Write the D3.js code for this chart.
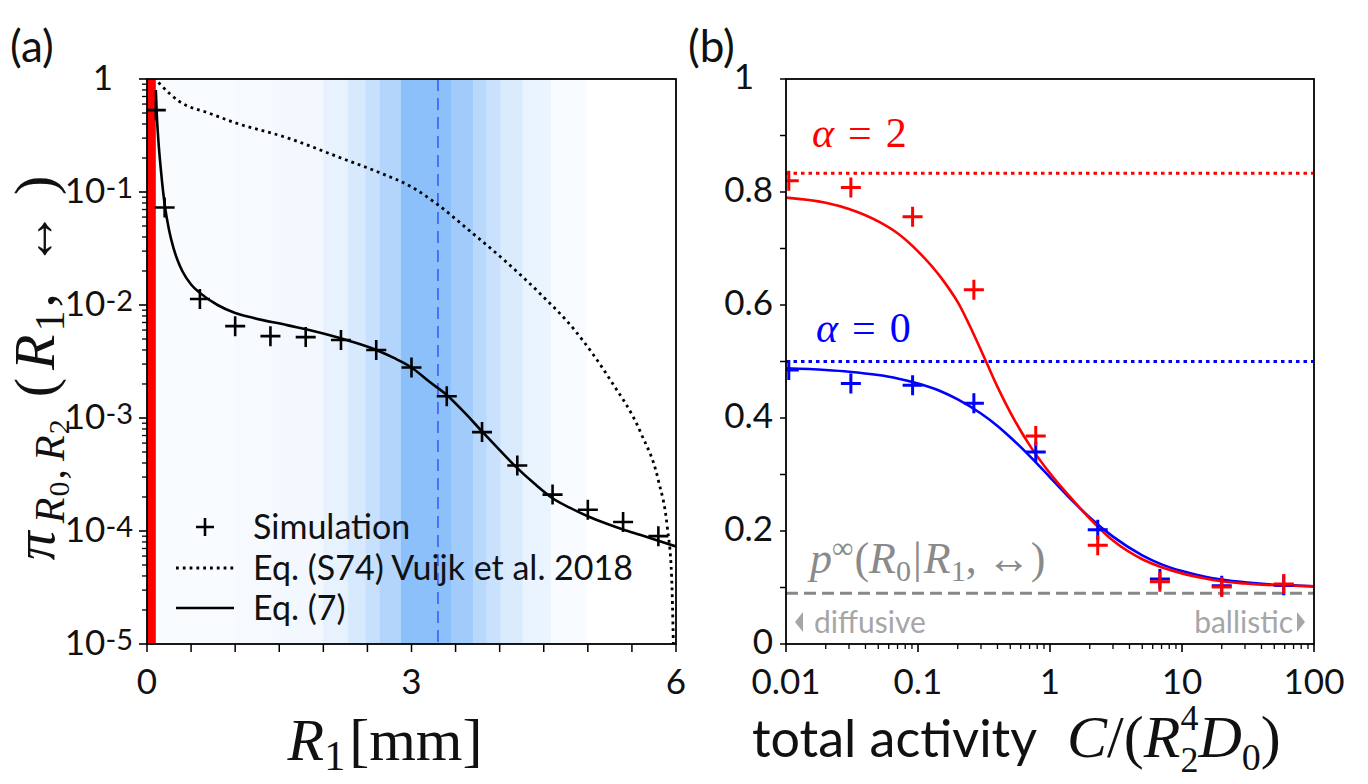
<!DOCTYPE html>
<html><head><meta charset="utf-8">
<script src="https://cdn.jsdelivr.net/npm/d3@7"></script>
<style>
body{margin:0;background:#fff;}
svg{display:block;}
</style></head><body>
<svg id="chart" width="1368" height="784"></svg>
<script>
// ================= DATA =================
// Panel (a)
const simR1 = [0.1,0.2,0.6,1.0,1.4,1.8,2.2,2.6,3.0,3.4,3.8,4.2,4.6,5.0,5.4,5.8];
const simPi = [0.53,0.073,0.0113,0.0065,0.0053,0.0052,0.0049,0.0040,0.0028,0.00156,0.00075,0.00038,0.00021,0.000154,0.00012,0.00009];
const eq7R1 = [0.10,0.11,0.13,0.16,0.2,0.25,0.3,0.35,0.4,0.5,0.6,0.8,1.0,1.2,1.6,2.0,2.3,2.6,2.8,3.0,3.2,3.4,3.6,3.8,4.0,4.2,4.4,4.6,4.8,5.0,5.2,5.4,5.6,5.8,6.0];
const eq7Pi = [0.8,0.5,0.28,0.15,0.078,0.046,0.032,0.0245,0.020,0.0152,0.0128,0.0100,0.0085,0.0077,0.0066,0.0056,0.0048,0.0040,0.0034,0.0028,0.0021,0.0016,0.00112,0.00076,0.00052,0.00036,0.00026,0.000195,0.00016,0.000135,0.000117,0.000103,0.000092,0.000082,0.000073];
const vuijkR1 = [0.13,0.37,0.7,1.0,1.6,2.2,2.65,3.0,3.3,3.65,4.05,4.45,4.85,5.25,5.6,5.8,5.9,5.95,5.97];
const vuijkPi = [0.93,0.63,0.5,0.41,0.30,0.20,0.147,0.111,0.077,0.046,0.025,0.0128,0.006,0.0022,0.00074,0.00028,0.00011,0.00004,0.00001];
const shadeEdges = [0,0.5,1.0,1.5,2.0,2.28,2.48,2.64,2.88,3.45,3.7,3.85,4.01,4.26,4.58,4.99,6];   // band edges (mm)
const shadeLevel = [0.05,0.06,0.08,0.11,0.2,0.35,0.5,0.66,1.0,0.82,0.62,0.47,0.32,0.18,0.06,0];
const R0 = 0.1;           // absorbing region (red bar)
const R1mark = 3.3;       // dashed line
const aXTicks = [0,3,6];
const aYTicks = [1,1e-1,1e-2,1e-3,1e-4,1e-5];
const aYTickExp = [null,"-1","-2","-3","-4","-5"];
const legendLabels = ["Simulation","Eq. (S74) Vuijk et al. 2018","Eq. (7)"];

// Panel (b)
const activity = [0.0105,0.031,0.091,0.265,0.78,2.3,6.8,20,59];
const simAlpha2 = [0.82,0.808,0.756,0.627,0.368,0.175,0.110,0.101,0.106];
const simAlpha0 = [0.485,0.461,0.458,0.426,0.340,0.202,0.115,0.103,0.104];
const theoryC = [0.01,0.02,0.03,0.05,0.07,0.1,0.15,0.2,0.3,0.4,0.5,0.7,1,1.5,2,3,5,7,10,15,20,30,50,70,100];
const theoryAlpha2 = [0.790,0.781,0.770,0.748,0.727,0.695,0.648,0.605,0.520,0.455,0.410,0.352,0.302,0.254,0.222,0.183,0.150,0.136,0.125,0.116,0.111,0.107,0.104,0.103,0.102];
const theoryAlpha0 = [0.488,0.485,0.482,0.476,0.470,0.461,0.447,0.433,0.408,0.386,0.366,0.333,0.295,0.252,0.224,0.190,0.157,0.141,0.129,0.119,0.114,0.109,0.105,0.104,0.102];
const limitAlpha2 = 0.833, limitAlpha0 = 0.5, pInf = 0.09;
const bXTicks = [0.01,0.1,1,10,100];
const bXTickLabels = ["0.01","0.1","1","10","100"];
const bYTicks = [0,0.2,0.4,0.6,0.8,1];
const bYTickLabels = ["0","0.2","0.4","0.6","0.8","1"];

// ================= DRAW =================
const svg = d3.select("#chart");
const SANS = "Lato, 'Open Sans', sans-serif";
const SERIF = "'Liberation Serif', 'DejaVu Serif', serif";

function rich(sel, segs){
  let cur = 0;
  segs.forEach(s=>{
    const sh = s.shift||0;
    const t = sel.append("tspan").text(s.t)
      .attr("dy", sh-cur)
      .style("font-size", s.size+"px")
      .style("font-style", s.it?"italic":"normal");
    if(s.dx) t.attr("dx", s.dx);
    if(s.font) t.style("font-family", s.font);
    cur = sh;
  });
}
const plusPath = h => `M${-h},0H${h}M0,${-h}V${h}`;

// ---------- Panel (a) ----------
const ax = d3.scaleLinear().domain([0,6]).range([147,676]);
const ay = d3.scaleLog().domain([1e-5,1]).range([644,79]);
svg.append("clipPath").attr("id","clipA").append("rect")
  .attr("x",147).attr("y",79).attr("width",529).attr("height",565);
const gA = svg.append("g");
const gAc = gA.append("g").attr("clip-path","url(#clipA)");
const shadeColor = d3.interpolateRgb("#ffffff","#8cc0fa");
gAc.selectAll("rect.band").data(shadeLevel).join("rect")
  .attr("x",(d,i)=>ax(shadeEdges[i])).attr("width",(d,i)=>ax(shadeEdges[i+1])-ax(shadeEdges[i])+0.5)
  .attr("y",79).attr("height",565)
  .attr("fill",d=>shadeColor(d));
gAc.append("rect").attr("x",ax(0)).attr("width",ax(R0)-ax(0))
  .attr("y",79).attr("height",565).attr("fill","#ff0000");
gAc.append("line").attr("x1",ax(R1mark)).attr("x2",ax(R1mark))
  .attr("y1",79).attr("y2",644).attr("stroke","#3b5bff").attr("stroke-width",1.6)
  .attr("stroke-dasharray","12,7");
const lineA = d3.line().x(d=>ax(d[0])).y(d=>ay(d[1])).curve(d3.curveMonotoneX);
gAc.append("path").attr("d",lineA(vuijkR1.map((v,i)=>[v,vuijkPi[i]])))
  .attr("fill","none").attr("stroke","#000").attr("stroke-width",2.8)
  .attr("stroke-dasharray","2.8,4");
gAc.append("path").attr("d",lineA(eq7R1.map((v,i)=>[v,eq7Pi[i]])))
  .attr("fill","none").attr("stroke","#000").attr("stroke-width",2.6);
gAc.selectAll("path.sim").data(simR1).join("path")
  .attr("transform",(d,i)=>`translate(${ax(d)},${ay(simPi[i])})`)
  .attr("d",plusPath(10)).attr("stroke","#000").attr("stroke-width",2.6).attr("fill","none");
gA.append("rect").attr("x",147).attr("y",79).attr("width",529).attr("height",565)
  .attr("fill","none").attr("stroke","#000").attr("stroke-width",1.8);
// y ticks
const aMinor = [];
for(let e=-5;e<0;e++) for(let m=2;m<=9;m++) aMinor.push(m*Math.pow(10,e));
gA.selectAll("line.ymin").data(aMinor).join("line")
  .attr("x1",142).attr("x2",147).attr("y1",d=>ay(d)).attr("y2",d=>ay(d))
  .attr("stroke","#000").attr("stroke-width",1.3);
gA.selectAll("line.ymaj").data(aYTicks).join("line")
  .attr("x1",139).attr("x2",147).attr("y1",d=>ay(d)).attr("y2",d=>ay(d))
  .attr("stroke","#000").attr("stroke-width",1.6);
aYTicks.forEach((v,i)=>{
  const t = gA.append("text").attr("x",i===0?113:133).attr("y",ay(v)+11)
    .attr("text-anchor","end").style("font-family",SANS).style("font-size","35px").attr("fill","#111");
  if(aYTickExp[i]===null){ t.text("1"); }
  else rich(t,[{t:"10",size:35},{t:aYTickExp[i],size:29,shift:-5}]);
});
// x ticks
gA.selectAll("line.xt").data(d3.range(0,6.01,0.5)).join("line")
  .attr("x1",d=>ax(d)).attr("x2",d=>ax(d)).attr("y1",644).attr("y2",652)
  .attr("stroke","#000").attr("stroke-width",1.5);
gA.selectAll("text.xl").data(aXTicks).join("text")
  .attr("x",d=>ax(d)).attr("y",694).attr("text-anchor","middle")
  .style("font-family",SANS).style("font-size","35px").attr("fill","#111").text(d=>d);
// axis labels
const aXL = gA.append("text").attr("x",385).attr("y",760).attr("text-anchor","middle")
  .style("font-family",SERIF).attr("fill","#111");
rich(aXL,[{t:"R",size:60,it:true},{t:"1",size:42,shift:10},{t:"[mm]",size:60,shift:0,dx:4}]);
const aYL = gA.append("text").attr("transform","translate(54,368) rotate(-90)")
  .attr("text-anchor","middle").style("font-family",SERIF).attr("fill","#111");
rich(aYL,[{t:"π",size:58,it:true},{t:"R",size:42,it:true,shift:10,dx:8},{t:"0",size:30,shift:15,dx:1},
  {t:",",size:42,shift:10,dx:2},{t:"R",size:42,it:true,shift:10,dx:8},{t:"2",size:30,shift:15,dx:1},
  {t:"(",size:58,shift:0,dx:22},{t:"R",size:58,it:true,dx:8},{t:"1",size:42,shift:10,dx:3},{t:",",size:58,shift:0,dx:3},
  {t:"↔",size:56,dx:26},{t:")",size:58,dx:16}]);
// legend
gA.append("path").attr("transform","translate(205,527)").attr("d",plusPath(9))
  .attr("stroke","#000").attr("stroke-width",2.6);
gA.append("line").attr("x1",176).attr("x2",234).attr("y1",568).attr("y2",568)
  .attr("stroke","#000").attr("stroke-width",2.8).attr("stroke-dasharray","2.8,4");
gA.append("line").attr("x1",176).attr("x2",234).attr("y1",608).attr("y2",608)
  .attr("stroke","#000").attr("stroke-width",2.6);
gA.selectAll("text.leg").data(legendLabels).join("text")
  .attr("x",253).attr("y",(d,i)=>[527,568,608][i]+12)
  .style("font-family",SANS).style("font-size","34px").attr("fill","#111").text(d=>d);
svg.append("text").attr("x",10).attr("y",62).style("font-family",SANS).style("font-size","44px")
  .attr("fill","#111").text("(a)");

// ---------- Panel (b) ----------
const bx = d3.scaleLog().domain([0.01,100]).range([786,1314]);
const by = d3.scaleLinear().domain([0,1]).range([644,79]);
svg.append("clipPath").attr("id","clipB").append("rect")
  .attr("x",786).attr("y",79).attr("width",528).attr("height",565);
const gB = svg.append("g");
const gBc = gB.append("g").attr("clip-path","url(#clipB)");
gBc.append("line").attr("x1",786).attr("x2",1314).attr("y1",by(pInf)).attr("y2",by(pInf))
  .attr("stroke","#888").attr("stroke-width",3).attr("stroke-dasharray","12,6");
gBc.append("line").attr("x1",786).attr("x2",1314).attr("y1",by(limitAlpha2)).attr("y2",by(limitAlpha2))
  .attr("stroke","#ff0000").attr("stroke-width",3).attr("stroke-dasharray","3.5,4");
gBc.append("line").attr("x1",786).attr("x2",1314).attr("y1",by(limitAlpha0)).attr("y2",by(limitAlpha0))
  .attr("stroke","#0000ff").attr("stroke-width",3).attr("stroke-dasharray","3.5,4");
const lineB = d3.line().x(d=>bx(d[0])).y(d=>by(d[1])).curve(d3.curveMonotoneX);
gBc.append("path").attr("d",lineB(theoryC.map((c,i)=>[c,theoryAlpha0[i]])))
  .attr("fill","none").attr("stroke","#0000ff").attr("stroke-width",2.6);
gBc.append("path").attr("d",lineB(theoryC.map((c,i)=>[c,theoryAlpha2[i]])))
  .attr("fill","none").attr("stroke","#ff0000").attr("stroke-width",2.6);
gBc.selectAll("path.s0").data(activity).join("path")
  .attr("transform",(d,i)=>`translate(${bx(d)},${by(simAlpha0[i])})`)
  .attr("d",plusPath(10)).attr("stroke","#0000ff").attr("stroke-width",3).attr("fill","none");
gBc.selectAll("path.s2").data(activity).join("path")
  .attr("transform",(d,i)=>`translate(${bx(d)},${by(simAlpha2[i])})`)
  .attr("d",plusPath(10)).attr("stroke","#ff0000").attr("stroke-width",3).attr("fill","none");
gB.append("rect").attr("x",786).attr("y",79).attr("width",528).attr("height",565)
  .attr("fill","none").attr("stroke","#000").attr("stroke-width",1.8);
// y ticks
gB.selectAll("line.yt").data(d3.range(0,1.001,0.1)).join("line")
  .attr("x1",780).attr("x2",786).attr("y1",d=>by(d)).attr("y2",d=>by(d))
  .attr("stroke","#000").attr("stroke-width",1.5);
gB.selectAll("text.yl").data(bYTicks).join("text")
  .attr("x",(d,i)=>bYTickLabels[i]==="1"?754:773).attr("y",d=>by(d)+10).attr("text-anchor","end")
  .style("font-family",SANS).style("font-size","35px").attr("fill","#111")
  .text((d,i)=>bYTickLabels[i]);
// x ticks
const bMinor=[];
for(let e=-2;e<2;e++) for(let m=2;m<=9;m++) bMinor.push(m*Math.pow(10,e));
gB.selectAll("line.xmin").data(bMinor).join("line")
  .attr("x1",d=>bx(d)).attr("x2",d=>bx(d)).attr("y1",644).attr("y2",649)
  .attr("stroke","#000").attr("stroke-width",1.3);
gB.selectAll("line.xmaj").data(bXTicks).join("line")
  .attr("x1",d=>bx(d)).attr("x2",d=>bx(d)).attr("y1",644).attr("y2",652)
  .attr("stroke","#000").attr("stroke-width",1.6);
gB.selectAll("text.xl").data(bXTicks).join("text")
  .attr("x",d=>bx(d)).attr("y",694).attr("text-anchor","middle")
  .style("font-family",SANS).style("font-size","35px").attr("fill","#111")
  .text((d,i)=>bXTickLabels[i]);
// x label
const bXL = gB.append("text").attr("x",752).attr("y",757).attr("fill","#111");
rich(bXL,[{t:"total activity",size:52,font:SANS},
  {t:"C",size:60,it:true,font:SERIF,dx:30},{t:"/(",size:60,font:SERIF},{t:"R",size:60,it:true,font:SERIF},
  {t:"4",size:36,font:SERIF,shift:-27},{t:"2",size:36,font:SERIF,shift:15,dx:-18},
  {t:"D",size:60,it:true,font:SERIF,shift:0},{t:"0",size:38,font:SERIF,shift:13},{t:")",size:60,font:SERIF,shift:0}]);
// annotations
const a2 = gB.append("text").attr("x",812).attr("y",147).attr("fill","#ff0000").style("font-family",SERIF);
rich(a2,[{t:"α",size:42,it:true},{t:"=",size:42,dx:14},{t:"2",size:42,dx:14}]);
const a0 = gB.append("text").attr("x",816).attr("y",342).attr("fill","#0000ff").style("font-family",SERIF);
rich(a0,[{t:"α",size:42,it:true},{t:"=",size:42,dx:14},{t:"0",size:42,dx:14}]);
const pl = gB.append("text").attr("x",810).attr("y",573).attr("fill","#8a8a8a").style("font-family",SERIF);
rich(pl,[{t:"p",size:44,it:true},{t:"∞",size:30,shift:-15},{t:"(",size:44,shift:0,dx:1},{t:"R",size:44,it:true},
  {t:"0",size:30,shift:8},{t:"|",size:44,shift:0,dx:2},{t:"R",size:44,it:true,dx:2},{t:"1",size:30,shift:8},
  {t:",",size:44,shift:0},{t:"↔",size:44,dx:10},{t:")",size:44}]);
gB.append("path").attr("d","M803,612L795,622L803,632Z").attr("fill","#a6a6a6");
gB.append("text").attr("x",814).attr("y",633).style("font-family",SANS).style("font-size","30px")
  .attr("fill","#a6a6a6").text("diffusive");
gB.append("path").attr("d","M1297,612L1305,622L1297,632Z").attr("fill","#a6a6a6");
gB.append("text").attr("x",1293).attr("y",633).attr("text-anchor","end").style("font-family",SANS).style("font-size","30px")
  .attr("fill","#a6a6a6").text("ballistic");
svg.append("text").attr("x",688).attr("y",62).style("font-family",SANS).style("font-size","44px")
  .attr("fill","#111").text("(b)");
</script>
</body></html>
